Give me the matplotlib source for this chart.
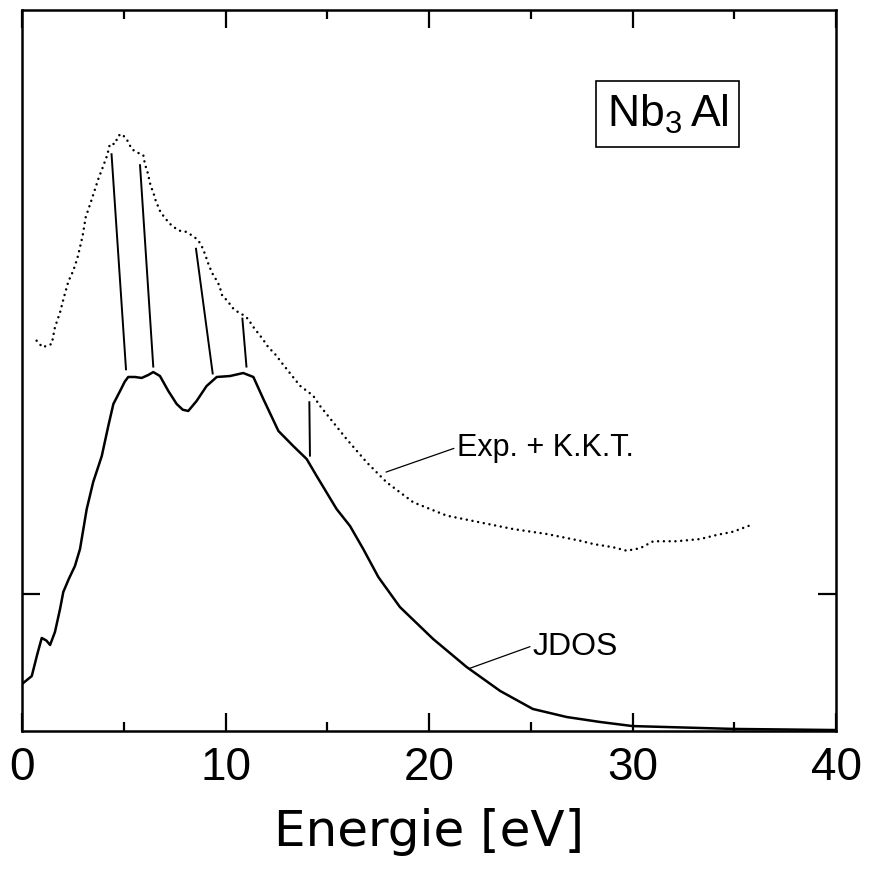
import matplotlib
matplotlib.use('Agg')
import matplotlib.pyplot as plt
from matplotlib.ticker import MultipleLocator

# JDOS (solid curve), energy in eV, intensity in arbitrary units
jdos_e = [0.0, 0.48, 0.75, 0.97, 1.2, 1.38, 1.62, 1.87, 2.03, 2.3, 2.6, 2.85, 3.18,
          3.5, 3.92, 4.24, 4.49, 4.82, 5.05, 5.22, 5.55, 5.88, 6.21, 6.45, 6.78,
          7.19, 7.6, 7.9, 8.17, 8.58, 9.07, 9.57, 10.22, 10.87, 11.37, 11.86,
          12.6, 13.33, 13.99, 14.48, 15.46, 16.12, 16.77, 17.51, 18.57, 20.2,
          21.85, 23.5, 25.1, 26.77, 28.4, 30.0, 35.0, 40.0]
jdos_y = [0.343, 0.401, 0.560, 0.679, 0.660, 0.628, 0.723, 0.891, 1.015, 1.110,
          1.204, 1.328, 1.620, 1.818, 2.007, 2.226, 2.387, 2.482, 2.550, 2.584,
          2.584, 2.577, 2.599, 2.620, 2.591, 2.482, 2.387, 2.345, 2.336, 2.409,
          2.518, 2.584, 2.591, 2.613, 2.584, 2.423, 2.190, 2.080, 1.985, 1.861,
          1.620, 1.496, 1.328, 1.124, 0.905, 0.672, 0.467, 0.292, 0.161, 0.102,
          0.066, 0.036, 0.015, 0.007]

# Exp. + K.K.T. (dotted curve)
kkt_e = [0.72, 1.01, 1.46, 1.62, 1.87, 2.06, 2.28, 2.52, 2.72, 2.85, 2.98, 3.13,
         3.39, 3.59, 3.75, 3.97, 4.19, 4.32, 4.57, 4.73, 4.9, 5.14, 5.39, 5.64,
         5.96, 6.04, 6.18, 6.32, 6.45, 6.57, 6.81, 7.03, 7.22, 7.47, 7.73, 8.01,
         8.29, 8.55, 8.75, 8.88, 8.99, 9.19, 9.37, 9.57, 9.7, 9.84, 10.09, 10.35,
         10.63, 10.84, 11.12, 11.32, 11.53, 11.83, 12.05, 12.27, 12.51, 12.68,
         13.66, 14.31, 14.64, 15.95, 16.94, 17.59, 17.92, 19.23, 20.87, 22.5,
         24.14, 25.78, 27.42, 28.07, 29.06, 29.71, 30.37, 31.02, 32.17, 33.32,
         34.14, 34.95, 35.74]
kkt_y = [2.849, 2.801, 2.825, 2.947, 3.056, 3.166, 3.282, 3.360, 3.450, 3.531,
         3.615, 3.750, 3.864, 3.956, 4.029, 4.115, 4.204, 4.285, 4.285, 4.345,
         4.358, 4.321, 4.248, 4.224, 4.204, 4.139, 4.073, 3.980, 3.932, 3.871,
         3.786, 3.745, 3.708, 3.677, 3.652, 3.647, 3.623, 3.596, 3.562, 3.523,
         3.482, 3.396, 3.336, 3.287, 3.250, 3.177, 3.141, 3.088, 3.056, 3.039,
         3.007, 2.958, 2.918, 2.861, 2.812, 2.776, 2.739, 2.703, 2.520, 2.447,
         2.374, 2.131, 1.961, 1.864, 1.815, 1.669, 1.572, 1.523, 1.474, 1.438,
         1.389, 1.365, 1.341, 1.316, 1.334, 1.385, 1.385, 1.401, 1.431, 1.455,
         1.499]

# structures assigned between the two curves
link_e_top = [4.40, 5.80, 8.55, 10.83, 14.12]
link_y_top = [4.21, 4.13, 3.52, 3.01, 2.40]
link_e_bot = [5.11, 6.45, 9.37, 11.03, 14.15]
link_y_bot = [2.64, 2.66, 2.61, 2.66, 2.01]

plt.rcParams['mathtext.default'] = 'regular'
plt.rcParams['font.family'] = ['Liberation Sans', 'DejaVu Sans']

fig = plt.figure(figsize=(8.72, 8.70), dpi=100)
ax = fig.add_axes([22 / 872, 138 / 870, 814 / 872, 721 / 870])

ax.plot(jdos_e, jdos_y, color='black', lw=1.8, solid_joinstyle='round')
ax.plot(kkt_e, kkt_y, color='black', lw=1.8, linestyle=(0, (0.01, 2.3)),
        dash_capstyle='round')

for e0, y0, e1, y1 in zip(link_e_top, link_y_top, link_e_bot, link_y_bot):
    ax.plot([e0, e1], [y0, y1], color='black', lw=1.4)

ax.annotate('Exp. + K.K.T.', xy=(17.89, 1.89), xytext=(21.36, 2.07),
            ha='left', va='center', fontsize=22,
            arrowprops=dict(arrowstyle='-', lw=0.9, color='black',
                            shrinkA=0, shrinkB=0, relpos=(0, 0.5)))
ax.annotate('JDOS', xy=(22.01, 0.458), xytext=(25.1, 0.623),
            ha='left', va='center', fontsize=23,
            arrowprops=dict(arrowstyle='-', lw=0.9, color='black',
                            shrinkA=0, shrinkB=0, relpos=(0, 0.5)))

ax.text(0.793, 0.856, 'Nb$_3\\,$Al', transform=ax.transAxes, ha='center',
        va='center', fontsize=32,
        bbox=dict(boxstyle='square,pad=0.25', fc='white', ec='black', lw=1.2))

ax.set_xlim(0, 40)
ax.set_ylim(0, 721 / 137)
ax.xaxis.set_major_locator(MultipleLocator(10))
ax.xaxis.set_minor_locator(MultipleLocator(5))
ax.set_yticks([1])
ax.tick_params(which='both', direction='in', top=True, right=True,
               width=1.6, labelleft=False)
ax.tick_params(which='major', length=13, pad=10, labelsize=33)
ax.tick_params(which='minor', length=6.5)
for sp in ax.spines.values():
    sp.set_linewidth(1.8)

ax.set_xlabel('Energie [eV]', fontsize=36, family=['DejaVu Sans'])
ax.xaxis.set_label_coords(0.5, -0.105)

fig.savefig('out.png', dpi=100)
